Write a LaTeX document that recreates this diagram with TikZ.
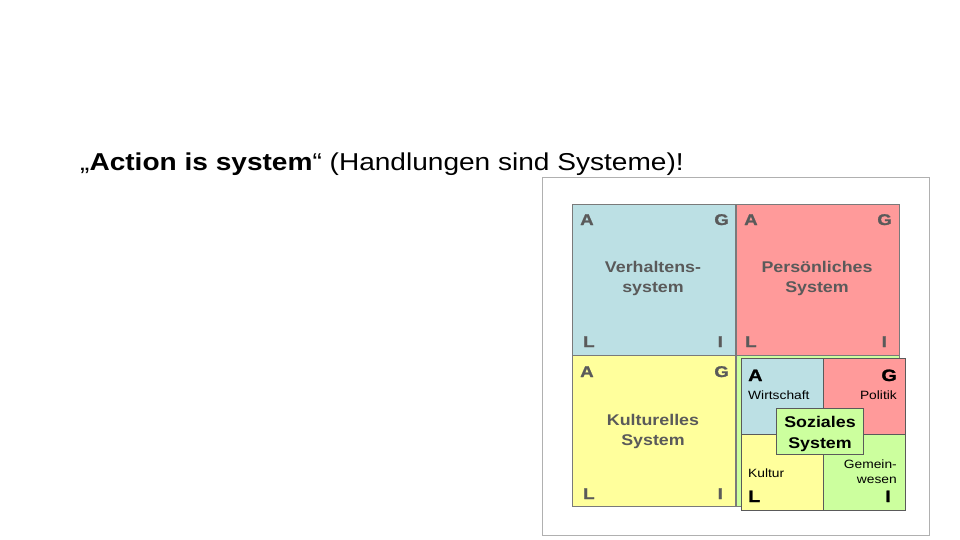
\documentclass[tikz,border=0pt]{standalone}
\usepackage{fontspec}
\setmainfont{Liberation Sans}[FakeStretch=1.15]
\newfontfamily\heavyfont{Liberation Sans Bold}[FakeStretch=1.2, FakeBold=1.5]
\usepackage{tikz}
\definecolor{blue200}{HTML}{BCE0E4}
\definecolor{red200}{HTML}{FF9A9A}
\definecolor{yellow200}{HTML}{FFFF9C}
\definecolor{green200}{HTML}{CCFF9E}
\definecolor{gray700}{HTML}{5A5A5A}
\definecolor{gray500}{HTML}{7A7A7A}
\definecolor{gray300}{HTML}{B0B0B0}
\tikzstyle{quadrant}=[draw=gray500, inner sep=0, anchor=north west, minimum width=163pt, minimum height=151pt]
\tikzstyle{subquad}=[draw=gray700, inner sep=0, anchor=north west, minimum width=82pt, minimum height=76pt]
\tikzstyle{letter}=[inner sep=0, text=gray700, font=\fontsize{15.5}{16}\heavyfont]
\tikzstyle{subletter}=[inner sep=0, text=black, font=\fontsize{16.5}{17}\heavyfont]
\tikzstyle{bigtext}=[inner sep=0, text=gray700, align=center, font=\fontsize{15.5}{20}\selectfont\bfseries]
\tikzstyle{smalltext}=[inner sep=0, text=black, font=\fontsize{12}{15}\selectfont]

\begin{document}
\begin{tikzpicture}[x=1pt, y=-1pt]
			\useasboundingbox (0,0) rectangle (960,540);
			\node[inner sep=0, anchor=base west, font=\fontsize{24.4}{25}\selectfont] (title) at (80,171) {„\textbf{Action is system}“ (Handlungen sind Systeme)!};
			\node[draw=gray300, inner sep=0, anchor=north west, minimum width=387pt, minimum height=358pt] (frame) at (542,177) {};
			% grosse Quadranten
			\node[quadrant, fill=blue200] (verhalten) at (572,204) {};
			\node[quadrant, fill=red200] (person) at (736,204) {};
			\node[quadrant, fill=yellow200] (kultur) at (572,355) {};
			\node[quadrant, fill=green200] (rest) at (736,355) {};
			\node[letter, anchor=base west] (va) at (580,225) {A};
			\node[letter, anchor=base east] (vg) at (729,225) {G};
			\node[letter, anchor=base west] (vl) at (583,347) {L};
			\node[letter, anchor=base east] (vi) at (723,347) {I};
			\node[letter, anchor=base west] (pa) at (744,225) {A};
			\node[letter, anchor=base east] (pg) at (892,225) {G};
			\node[letter, anchor=base west] (pl) at (745,347) {L};
			\node[letter, anchor=base east] (pi) at (887,347) {I};
			\node[letter, anchor=base west] (ka) at (580,377) {A};
			\node[letter, anchor=base east] (kg) at (729,377) {G};
			\node[letter, anchor=base west] (kl) at (583,499) {L};
			\node[letter, anchor=base east] (ki) at (723,499) {I};
			\node[bigtext, anchor=base] (vtext) at (653,292) {Verhaltens-\\system};
			\node[bigtext, anchor=base] (ptext) at (817,292) {Persönliches\\System};
			\node[bigtext, anchor=base] (ktext) at (653,445) {Kulturelles\\System};
			% Soziales System
			\node[subquad, fill=blue200] (wirtschaft) at (741,358) {};
			\node[subquad, fill=red200] (politik) at (823,358) {};
			\node[subquad, fill=yellow200] (kulturbox) at (741,434) {};
			\node[subquad, fill=green200] (gemein) at (823,434) {};
			\node[subletter, anchor=base west] (sa) at (748,381) {A};
			\node[subletter, anchor=base east] (sg) at (897,381) {G};
			\node[subletter, anchor=base west] (sl) at (748,502) {L};
			\node[subletter, anchor=base east] (si) at (891,502) {I};
			\node[smalltext, anchor=base west] (wtext) at (748,399) {Wirtschaft};
			\node[smalltext, anchor=base east] (ptext2) at (897,399) {Politik};
			\node[smalltext, anchor=base west] (ktext2) at (748,477) {Kultur};
			\node[smalltext, anchor=base east, align=right] (gtext) at (897,483) {Gemein-\\wesen};
			\node[draw=gray700, fill=green200, inner sep=0, anchor=north west, minimum width=87pt, minimum height=46pt] (sozial) at (776,408) {};
			\node[inner sep=0, anchor=base, align=center, font=\fontsize{15.5}{21}\selectfont\bfseries] (stext) at (820,448) {Soziales\\System};
		\end{tikzpicture}
\end{document}
